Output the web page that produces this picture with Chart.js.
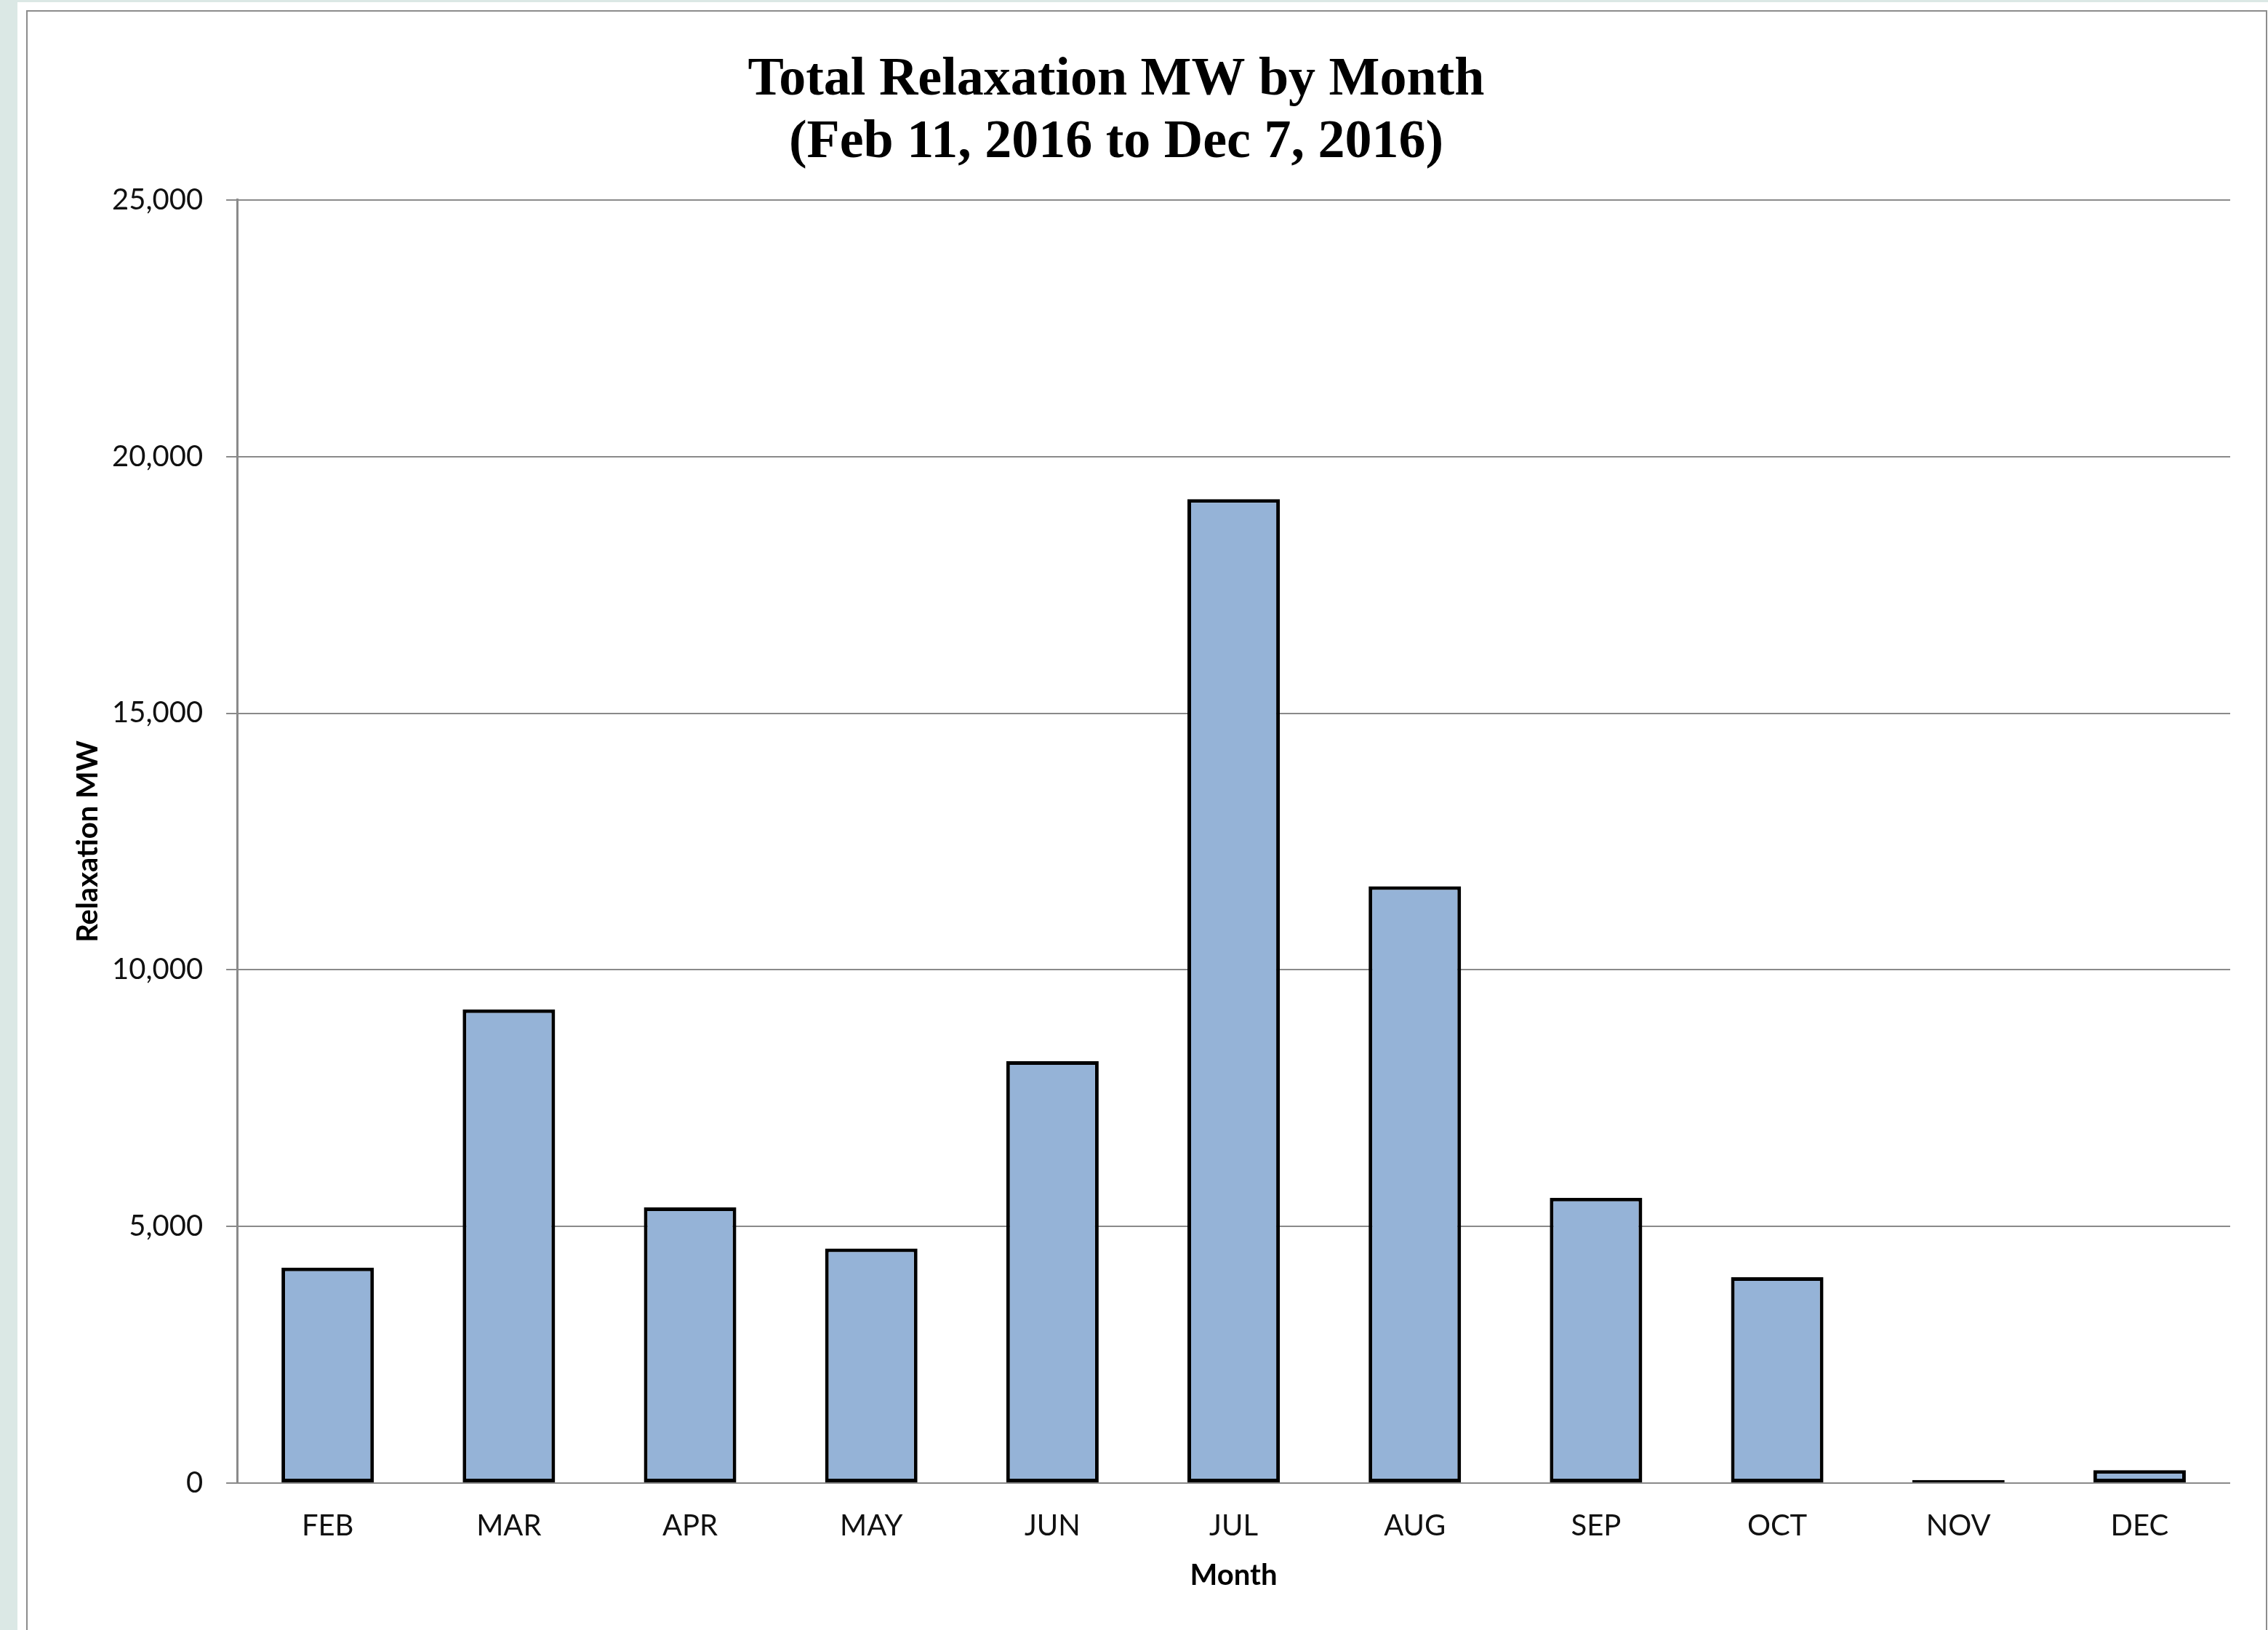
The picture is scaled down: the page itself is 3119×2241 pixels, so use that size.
<!DOCTYPE html>
<html>
<head>
<meta charset="utf-8">
<script src="https://cdn.jsdelivr.net/npm/chart.js@4.4.1/dist/chart.umd.min.js"></script>
<style>
  html, body { margin: 0; padding: 0; }
  body { width: 3119px; height: 2241px; background: #dbe8e5; position: relative; overflow: hidden; }
  #panel { position: absolute; left: 24px; top: 3px; right: 0; bottom: 0; background: #fff; }
  #frame { position: absolute; left: 36px; top: 14px; width: 3078px; height: 2300px; border: 2px solid #8c8c8c; }
  #wrap { position: absolute; left: 0; top: 0; width: 3070px; height: 2241px; }
</style>
</head>
<body>
<div id="panel"></div>
<div id="frame"></div>
<div id="wrap"><canvas id="chart"></canvas></div>
<script>
// Total Relaxation MW by Month
const months = ['FEB', 'MAR', 'APR', 'MAY', 'JUN', 'JUL', 'AUG', 'SEP', 'OCT', 'NOV', 'DEC'];
const relaxationMW = [4200, 9230, 5370, 4570, 8220, 19170, 11630, 5560, 4010, 60, 250];
const titleLines = ['Total Relaxation MW by Month', '(Feb 11, 2016 to Dec 7, 2016)'];

const tickFont = { family: 'Lato, "Liberation Sans", sans-serif', size: 40 };
const axisTitleFont = { family: 'Lato, "Liberation Sans", sans-serif', size: 40, weight: 'bold' };

new Chart('chart', {
  type: 'bar',
  data: {
    labels: months,
    datasets: [{
      label: 'Relaxation MW',
      data: relaxationMW,
      backgroundColor: '#95b3d7',
      borderColor: '#000',
      borderWidth: 5,
      borderSkipped: false,
      categoryPercentage: 1,
      barPercentage: 0.51
    }]
  },
  options: {
    responsive: true,
    maintainAspectRatio: false,
    animation: false,
    layout: { padding: { left: 3, right: 3, top: 0, bottom: 45 } },
    plugins: {
      legend: { display: false },
      tooltip: { enabled: false },
      title: {
        display: true,
        text: titleLines,
        color: '#000',
        font: { family: '"Liberation Serif", serif', size: 74, weight: 'bold', lineHeight: 1.162 },
        padding: { top: 68, bottom: 35 }
      }
    },
    scales: {
      x: {
        grid: { display: false, drawTicks: false },
        border: { display: false },
        ticks: { color: '#111', font: tickFont, padding: 35 },
        title: {
          display: true, text: 'Month', color: '#000', font: axisTitleFont,
          padding: { top: -15, bottom: 6 }
        }
      },
      y: {
        min: 0,
        max: 25000,
        ticks: {
          stepSize: 5000,
          color: '#111',
          font: tickFont,
          padding: 32,
          callback: v => v.toLocaleString('en-US')
        },
        grid: { color: '#8a8a8a', lineWidth: 2, tickLength: 15, tickColor: '#8a8a8a' },
        border: { display: true, color: '#8a8a8a', width: 3 },
        title: {
          display: true, text: 'Relaxation MW', color: '#000', font: axisTitleFont,
          padding: { top: 94, bottom: -23 }
        }
      }
    }
  }
});
</script>
</body>
</html>
